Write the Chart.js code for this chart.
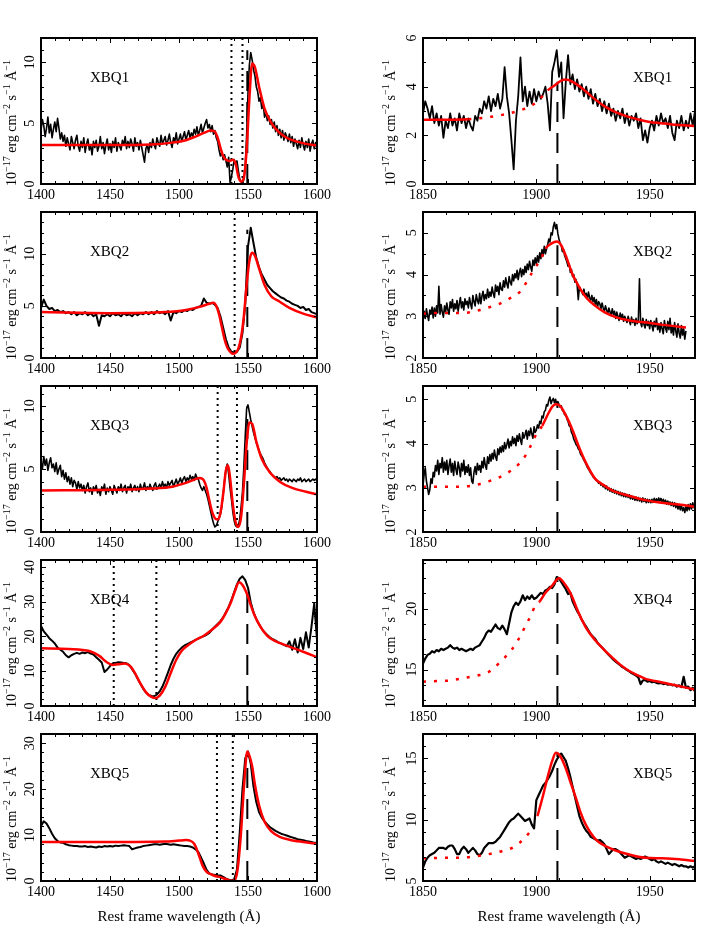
<!DOCTYPE html>
<html lang="en">
<head>
    <meta charset="UTF-8">
    <title>XBQ1-5 C IV and C III] profiles</title>
    <script src="https://cdn.jsdelivr.net/npm/chart.js"></script>
    <style>
        body { margin: 0; background: #fff; }
        #page { position: relative; width: 701px; height: 926px; background: #fff; }
        #page canvas { position: absolute; }
    </style>
</head>
<body>
<div id="page"></div>
<script>
// wavelength grids (Angstrom)
const waveLeft = [1400,1402,1404,1406,1408,1410,1412,1414,1416,1418,
    1420,1422,1424,1426,1428,1430,1432,1434,1436,1438,
    1440,1442,1444,1446,1448,1450,1452,1454,1456,1458,
    1460,1462,1464,1466,1468,1470,1472,1474,1476,1478,
    1480,1482,1484,1486,1488,1490,1492,1494,1496,1498,
    1500,1502,1504,1506,1508,1510,1512,1514,1516,1518,
    1520,1522,1524,1526,1528,1530,1532,1534,1536,1538,
    1540,1542,1544,1546,1548,1550,1552,1554,1556,1558,
    1560,1562,1564,1566,1568,1570,1572,1574,1576,1578,
    1580,1582,1584,1586,1588,1590,1592,1594,1596,1598,1600];
const waveLeftFine = [1400,1401,1402,1403,1404,1405,1406,1407,1408,1409,
    1410,1411,1412,1413,1414,1415,1416,1417,1418,1419,
    1420,1421,1422,1423,1424,1425,1426,1427,1428,1429,
    1430,1431,1432,1433,1434,1435,1436,1437,1438,1439,
    1440,1441,1442,1443,1444,1445,1446,1447,1448,1449,
    1450,1451,1452,1453,1454,1455,1456,1457,1458,1459,
    1460,1461,1462,1463,1464,1465,1466,1467,1468,1469,
    1470,1471,1472,1473,1474,1475,1476,1477,1478,1479,
    1480,1481,1482,1483,1484,1485,1486,1487,1488,1489,
    1490,1491,1492,1493,1494,1495,1496,1497,1498,1499,
    1500,1501,1502,1503,1504,1505,1506,1507,1508,1509,
    1510,1511,1512,1513,1514,1515,1516,1517,1518,1519,
    1520,1521,1522,1523,1524,1525,1526,1527,1528,1529,
    1530,1531,1532,1533,1534,1535,1536,1537,1538,1539,
    1540,1541,1542,1543,1544,1545,1546,1547,1548,1549,
    1550,1551,1552,1553,1554,1555,1556,1557,1558,1559,
    1560,1561,1562,1563,1564,1565,1566,1567,1568,1569,
    1570,1571,1572,1573,1574,1575,1576,1577,1578,1579,
    1580,1581,1582,1583,1584,1585,1586,1587,1588,1589,
    1590,1591,1592,1593,1594,1595,1596,1597,1598,1599,1600];
const waveRight = [1850,1851,1852,1853,1854,1855,1856,1857,1858,1859,
    1860,1861,1862,1863,1864,1865,1866,1867,1868,1869,
    1870,1871,1872,1873,1874,1875,1876,1877,1878,1879,
    1880,1881,1882,1883,1884,1885,1886,1887,1888,1889,
    1890,1891,1892,1893,1894,1895,1896,1897,1898,1899,
    1900,1901,1902,1903,1904,1905,1906,1907,1908,1909,
    1910,1911,1912,1913,1914,1915,1916,1917,1918,1919,
    1920,1921,1922,1923,1924,1925,1926,1927,1928,1929,
    1930,1931,1932,1933,1934,1935,1936,1937,1938,1939,
    1940,1941,1942,1943,1944,1945,1946,1947,1948,1949,
    1950,1951,1952,1953,1954,1955,1956,1957,1958,1959,
    1960,1961,1962,1963,1964,1965,1966,1967,1968,1969,1970];
const waveRightFine = [1850,1850.5,1851,1851.5,1852,1852.5,1853,1853.5,1854,1854.5,
    1855,1855.5,1856,1856.5,1857,1857.5,1858,1858.5,1859,1859.5,
    1860,1860.5,1861,1861.5,1862,1862.5,1863,1863.5,1864,1864.5,
    1865,1865.5,1866,1866.5,1867,1867.5,1868,1868.5,1869,1869.5,
    1870,1870.5,1871,1871.5,1872,1872.5,1873,1873.5,1874,1874.5,
    1875,1875.5,1876,1876.5,1877,1877.5,1878,1878.5,1879,1879.5,
    1880,1880.5,1881,1881.5,1882,1882.5,1883,1883.5,1884,1884.5,
    1885,1885.5,1886,1886.5,1887,1887.5,1888,1888.5,1889,1889.5,
    1890,1890.5,1891,1891.5,1892,1892.5,1893,1893.5,1894,1894.5,
    1895,1895.5,1896,1896.5,1897,1897.5,1898,1898.5,1899,1899.5,
    1900,1900.5,1901,1901.5,1902,1902.5,1903,1903.5,1904,1904.5,
    1905,1905.5,1906,1906.5,1907,1907.5,1908,1908.5,1909,1909.5,
    1910,1910.5,1911,1911.5,1912,1912.5,1913,1913.5,1914,1914.5,
    1915,1915.5,1916,1916.5,1917,1917.5,1918,1918.5,1919,1919.5,
    1920,1920.5,1921,1921.5,1922,1922.5,1923,1923.5,1924,1924.5,
    1925,1925.5,1926,1926.5,1927,1927.5,1928,1928.5,1929,1929.5,
    1930,1930.5,1931,1931.5,1932,1932.5,1933,1933.5,1934,1934.5,
    1935,1935.5,1936,1936.5,1937,1937.5,1938,1938.5,1939,1939.5,
    1940,1940.5,1941,1941.5,1942,1942.5,1943,1943.5,1944,1944.5,
    1945,1945.5,1946,1946.5,1947,1947.5,1948,1948.5,1949,1949.5,
    1950,1950.5,1951,1951.5,1952,1952.5,1953,1953.5,1954,1954.5,
    1955,1955.5,1956,1956.5,1957,1957.5,1958,1958.5,1959,1959.5,
    1960,1960.5,1961,1961.5,1962,1962.5,1963,1963.5,1964,1964.5,
    1965,1965.5,1966,1966.5,1967,1967.5,1968,1968.5,1969,1969.5,1970];

// observed flux, C IV region (1e-17 erg/cm2/s/A)
const fluxL1 = [4.4,5.3,4.8,3.9,4.6,5.5,4.2,4.9,3.8,4.5,
    5.1,4.3,5.4,4.6,3.7,4.2,3.5,4.0,3.1,3.8,
    3.3,2.8,3.9,3.4,2.9,3.6,4.0,3.1,2.7,3.5,
    3.0,3.8,2.6,3.3,3.7,2.8,3.2,2.4,3.5,3.0,
    3.6,2.7,3.1,3.9,2.9,3.4,2.5,3.2,3.7,2.8,
    3.3,2.6,3.5,3.0,3.8,2.7,3.4,3.1,2.8,3.6,
    3.2,3.9,2.9,3.5,3.0,3.7,3.3,2.7,3.8,3.1,
    3.4,2.8,3.6,3.0,2.4,1.8,2.9,3.2,2.6,3.4,
    3.0,3.7,3.2,2.9,3.8,3.4,3.1,4.0,3.3,3.6,
    3.9,3.2,3.6,4.1,3.4,3.0,3.8,3.5,4.2,3.3,
    3.7,4.1,3.5,3.9,4.3,3.6,4.0,4.4,3.8,4.2,
    3.9,4.5,4.1,4.7,4.0,4.4,4.9,4.2,4.6,5.0,
    5.3,4.6,4.9,4.3,4.8,4.1,4.4,3.8,3.5,2.8,
    2.3,2.6,2.0,2.4,1.9,1.4,2.2,0.1,0.6,1.2,
    2.0,1.6,1.9,1.1,0.4,0.2,0.0,0.4,1.5,4.0,
    7.5,9.8,10.8,10.2,9.4,8.9,8.0,7.6,6.8,7.1,
    6.2,6.6,5.5,5.9,5.2,5.6,4.9,5.3,4.6,5.1,
    4.3,4.8,4.0,4.5,3.8,4.4,3.6,4.2,3.9,3.5,
    4.1,3.4,3.9,3.1,3.7,3.3,2.9,3.6,3.0,3.8,
    3.2,2.8,3.5,3.0,3.7,2.7,3.3,3.6,2.9,3.4,3.1];
const fluxL2 = [4.8,5.6,5.0,4.7,4.8,4.5,4.6,4.4,4.5,4.3,
    4.4,4.2,4.4,4.1,4.3,4.2,4.4,4.1,4.3,4.0,
    4.2,3.1,4.1,4.0,4.2,4.0,4.3,4.1,4.2,4.0,
    4.3,4.1,4.2,4.0,4.3,4.1,4.3,4.2,4.4,4.2,
    4.4,4.2,4.5,4.3,4.4,4.2,4.5,3.6,4.4,4.3,
    4.5,4.4,4.6,4.5,4.7,4.6,4.8,4.9,5.0,5.7,
    5.3,5.2,5.3,5.1,4.8,4.0,2.9,1.8,1.0,0.6,
    0.5,0.6,1.0,2.4,5.2,10.7,12.5,11.0,9.6,8.7,
    8.0,7.5,7.0,6.7,6.4,6.2,6.0,5.8,5.7,5.5,
    5.4,5.2,5.1,5.0,4.8,4.9,4.6,4.7,4.4,4.3,4.2];
const fluxL3 = [5.6,5.0,6.0,5.3,5.8,4.9,5.5,5.9,5.1,5.4,
    4.8,5.5,4.6,5.0,5.3,4.4,4.9,4.2,4.7,4.0,
    4.4,3.8,4.3,3.6,4.1,3.9,3.4,4.0,3.5,3.8,
    3.3,3.7,3.1,3.6,3.9,3.2,3.5,3.0,3.6,3.3,
    3.7,3.1,3.4,2.9,3.6,3.3,3.8,3.0,3.5,3.2,
    3.6,3.3,3.0,3.7,3.4,3.1,3.6,3.3,3.8,3.2,
    3.5,3.7,3.1,3.6,3.4,3.8,3.2,3.5,3.7,3.3,
    3.6,3.2,3.8,3.4,3.5,3.9,3.3,3.6,3.4,3.8,
    3.5,3.3,3.7,3.9,3.4,3.6,3.8,3.5,4.0,3.6,
    3.8,3.5,4.0,3.7,3.9,4.1,3.6,3.9,4.2,3.8,
    4.0,4.3,3.9,4.2,4.4,4.0,4.3,4.1,4.5,4.2,
    4.4,4.1,4.6,4.3,4.2,3.8,3.5,3.3,3.6,3.3,
    3.0,2.6,2.1,1.6,1.1,0.7,0.4,0.5,0.8,1.1,
    1.4,2.0,3.0,4.1,5.0,5.4,4.6,3.5,2.6,1.6,
    0.9,0.5,0.4,0.5,1.0,2.0,3.2,5.2,7.6,9.8,
    10.1,9.5,8.9,8.4,7.9,7.5,7.1,6.8,6.5,6.2,
    6.0,5.8,5.5,5.3,5.1,4.9,4.8,4.6,4.5,4.4,
    4.3,4.4,4.2,4.3,4.1,4.2,4.3,4.1,4.2,4.0,
    4.2,4.1,4.0,4.2,4.1,4.0,4.2,4.1,4.3,4.0,
    4.1,4.2,4.0,4.1,4.2,4.0,4.1,4.2,4.1,4.2,4.1];
const fluxL4 = [23.0,21.5,20.5,19.5,18.8,18.0,16.8,16.2,15.6,14.6,
    14.0,14.6,15.0,15.3,15.0,15.4,15.2,15.5,15.1,14.8,
    14.0,13.3,12.5,9.8,10.5,11.5,12.2,12.4,12.6,12.5,
    12.4,12.3,11.8,10.6,9.4,7.9,6.4,5.0,3.9,3.2,
    2.9,2.8,3.3,4.2,5.6,7.5,9.6,11.8,13.6,15.0,
    16.0,16.8,17.4,17.8,18.2,18.6,19.0,19.4,19.8,20.1,
    20.5,21.0,22.0,22.8,23.6,24.4,25.5,27.0,28.5,30.5,
    32.8,35.0,36.6,37.3,36.2,34.0,29.8,27.0,25.0,23.5,
    22.2,21.2,20.4,19.7,19.2,18.8,18.3,18.0,17.6,17.2,
    18.6,16.2,19.2,15.4,19.6,16.4,21.2,16.8,22.8,29.5,19.0];
const fluxL5 = [12.0,13.0,12.5,11.5,10.3,9.3,8.7,8.4,8.3,8.0,
    7.8,7.7,7.6,7.6,7.5,7.5,7.6,7.4,7.5,7.4,
    7.3,7.5,7.4,7.6,7.5,7.6,7.5,7.7,7.6,7.7,
    7.8,7.7,7.6,6.9,7.1,7.3,7.4,7.6,7.7,7.8,
    7.9,8.0,8.0,7.9,8.0,8.1,8.0,7.9,8.0,7.9,
    7.8,7.7,7.6,7.6,7.5,7.3,6.9,6.3,5.1,3.8,
    2.4,1.6,1.4,1.3,1.2,1.2,0.9,0.5,0.3,0.1,
    0.4,2.5,10.5,20.0,26.7,28.2,25.5,20.5,17.2,15.0,
    13.8,13.0,12.3,11.7,11.3,10.9,10.6,10.3,10.1,9.9,
    9.7,9.5,9.3,9.1,9.0,8.9,8.7,8.6,8.5,8.3,8.3];

// observed flux, C III] region
const fluxR1 = [2.9,3.4,3.1,2.7,3.2,2.5,2.9,2.4,2.8,1.9,
    2.6,2.3,2.9,2.4,2.7,2.2,2.9,2.5,2.8,2.3,
    2.7,2.4,2.2,2.8,2.6,3.1,2.9,3.4,3.1,3.6,
    3.0,3.5,3.2,3.7,3.1,3.5,4.8,3.6,2.9,1.8,
    0.6,2.6,3.6,5.2,3.4,4.0,3.2,3.8,3.3,3.9,
    3.4,3.8,3.5,3.7,4.0,3.3,2.2,4.6,5.0,5.5,
    4.4,5.0,2.7,4.2,5.3,4.1,4.5,3.9,4.3,3.8,
    4.1,3.6,4.0,3.5,3.9,3.3,3.7,3.2,3.5,3.0,
    3.4,2.9,3.3,2.8,3.1,2.6,3.0,2.7,3.1,2.5,
    2.9,2.4,2.8,2.6,2.9,2.3,2.7,1.8,2.2,1.7,
    2.3,2.6,2.2,2.8,2.4,2.9,2.5,2.7,2.3,2.8,
    2.1,1.8,2.6,2.3,2.8,2.2,2.6,2.3,2.9,2.4,3.0];
const fluxR2 = [2.88,3.12,2.95,3.18,3.02,2.9,3.15,3.05,3.22,2.96,
    3.2,3.0,3.25,3.08,3.72,3.05,3.28,3.1,2.98,3.25,
    3.1,3.32,3.15,3.05,3.35,3.2,3.4,3.12,3.3,3.18,
    3.38,3.12,3.3,3.45,3.2,3.35,3.15,3.42,3.28,3.36,
    3.2,3.45,3.3,3.18,3.5,3.35,3.25,3.52,3.38,3.3,
    3.55,3.3,3.48,3.6,3.38,3.52,3.42,3.65,3.45,3.58,
    3.48,3.7,3.55,3.45,3.75,3.6,3.72,3.52,3.8,3.65,
    3.62,3.85,3.7,3.92,3.78,3.68,3.95,3.82,3.75,4.0,
    3.85,4.02,3.92,4.1,3.88,4.05,4.15,3.95,4.12,4.0,
    4.2,4.05,4.25,4.12,4.32,4.18,4.08,4.35,4.22,4.4,
    4.25,4.45,4.3,4.52,4.38,4.6,4.45,4.68,4.5,4.62,
    4.72,4.85,4.78,5.0,4.95,5.15,5.25,5.1,5.2,4.98,
    4.85,4.75,4.7,4.55,4.6,4.45,4.38,4.3,4.2,4.25,
    4.05,4.12,3.95,4.0,3.82,3.88,3.75,3.4,3.7,3.62,
    3.6,3.52,3.65,3.48,3.55,3.42,3.58,3.45,3.38,3.5,
    3.35,3.45,3.28,3.4,3.22,3.35,3.3,3.18,3.32,3.2,
    3.12,3.25,3.15,3.05,3.2,3.1,3.02,3.18,3.05,3.12,
    2.95,3.1,3.0,2.9,3.08,2.95,3.05,2.88,3.0,2.92,
    2.85,3.0,2.9,2.8,2.98,2.85,2.92,2.78,2.95,2.82,
    2.9,3.9,2.85,2.75,2.95,2.8,2.72,2.92,2.78,2.88,
    2.7,2.9,2.78,2.65,2.88,2.75,2.95,2.68,2.82,2.62,
    2.85,2.7,2.58,2.9,2.72,2.62,2.88,2.68,2.95,2.6,
    2.75,2.55,2.85,2.65,2.5,2.82,2.6,2.48,2.78,2.55,
    2.7,2.45,2.65,null,null,null,null,null,null,null,null];
const fluxR3 = [3.05,3.3,3.45,3.15,3.0,2.85,2.95,3.2,3.1,3.35,
    3.25,3.5,3.38,3.62,3.3,3.55,3.45,3.68,3.35,3.58,
    3.4,3.62,3.3,3.5,3.65,3.35,3.55,3.28,3.6,3.42,
    3.3,3.58,3.45,3.25,3.55,3.38,3.62,3.3,3.48,3.35,
    3.52,3.28,3.45,3.15,3.1,3.35,3.48,3.3,3.55,3.4,
    3.5,3.35,3.6,3.45,3.68,3.5,3.42,3.7,3.55,3.75,
    3.6,3.78,3.65,3.85,3.7,3.62,3.88,3.75,3.92,3.8,
    3.95,3.82,4.02,3.88,3.98,4.1,3.9,4.05,3.95,4.15,
    4.0,4.12,3.95,4.18,4.05,4.22,4.08,3.98,4.25,4.12,
    4.2,4.3,4.1,4.28,4.18,4.35,4.22,4.12,4.38,4.25,
    4.3,4.42,4.35,4.5,4.45,4.62,4.58,4.72,4.75,4.88,
    4.85,4.98,5.05,4.9,4.98,5.02,4.92,5.0,4.88,4.95,
    4.88,4.82,4.85,4.75,4.72,4.65,4.66,4.55,4.5,4.4,
    4.38,4.25,4.2,4.1,4.05,3.98,3.95,3.88,3.85,3.76,
    3.72,3.68,3.62,3.58,3.52,3.46,3.42,3.38,3.33,3.3,
    3.25,3.22,3.2,3.16,3.15,3.1,3.12,3.06,3.08,3.02,
    3.06,2.98,3.04,2.95,3.0,2.92,2.98,2.9,2.96,2.88,
    2.94,2.86,2.92,2.84,2.9,2.82,2.88,2.8,2.87,2.79,
    2.85,2.78,2.84,2.75,2.82,2.74,2.8,2.72,2.79,2.71,
    2.78,2.7,2.76,2.68,2.77,2.69,2.75,2.66,2.74,2.67,
    2.73,2.66,2.74,2.67,2.76,2.68,2.75,2.69,2.77,2.7,
    2.76,2.68,2.74,2.66,2.72,2.63,2.7,2.62,2.68,2.6,
    2.67,2.58,2.66,2.55,2.64,2.52,2.62,2.5,2.6,2.48,
    2.55,2.44,2.58,2.48,2.62,2.5,2.64,2.52,2.66,2.55,2.62];
const fluxR4 = [15.5,15.9,16.2,16.3,16.5,16.4,16.6,16.5,16.7,16.6,
    16.7,16.8,17.0,16.8,16.7,16.8,16.6,16.7,16.6,16.5,
    16.6,16.7,16.6,16.8,16.9,17.0,17.3,17.6,18.0,18.2,
    18.1,18.4,18.7,18.4,18.3,18.6,18.3,17.9,18.8,19.7,
    20.2,20.5,20.3,20.6,21.1,20.7,21.0,20.8,21.1,20.8,
    20.9,21.1,21.3,21.2,21.5,21.6,21.8,21.7,22.0,22.6,
    22.5,22.2,21.9,21.6,21.2,21.3,20.6,20.2,19.8,19.5,
    19.1,18.8,18.5,18.2,17.9,17.7,17.5,17.2,17.0,16.8,
    16.6,16.4,16.2,16.0,15.8,15.65,15.5,15.35,15.2,15.1,
    14.95,14.85,14.7,14.6,14.5,14.35,13.8,14.1,14.15,14.0,
    14.05,13.95,14.0,13.9,13.85,13.9,13.8,13.85,13.75,13.8,
    13.7,13.75,13.6,13.7,13.55,14.4,13.5,13.6,13.3,13.5,13.2];
const fluxR5 = [6.1,6.6,6.9,7.1,7.2,7.3,7.5,7.7,7.7,7.7,
    7.6,7.8,7.9,7.9,7.6,7.2,7.2,7.6,7.8,7.6,
    7.3,7.5,7.7,7.5,7.2,7.1,7.3,7.7,7.9,8.1,
    8.1,8.1,8.2,8.4,8.6,8.9,9.2,9.5,9.8,10.0,
    10.1,10.3,10.5,10.3,10.1,9.9,10.0,10.1,9.6,9.3,
    11.6,12.0,12.4,12.8,13.0,13.3,13.6,14.0,14.5,14.9,
    15.2,15.4,15.1,14.8,14.2,13.5,12.7,11.9,11.1,10.3,
    9.8,9.4,9.1,8.9,8.6,8.5,8.4,8.3,8.35,8.2,
    8.0,7.6,7.2,7.4,7.6,7.6,7.5,7.3,7.1,6.9,
    7.0,7.1,7.0,6.9,6.8,6.9,6.8,6.9,7.0,6.9,
    6.8,6.7,6.8,6.6,6.5,6.6,6.5,6.4,6.5,6.4,
    6.3,6.4,6.3,6.2,6.3,6.2,6.2,6.1,6.2,6.1,6.2];

// model fits (knots)
const modelL1x = [1400,1450,1480,1495,1505,1512,1518,1523,1526,1528,1530,1532,1534,1537,1539,1541,1543,1545,1547,1549,1551,1553,1555,1558,1562,1567,1572,1578,1585,1592,1600];
const modelL1y = [3.2,3.2,3.25,3.4,3.6,3.9,4.2,4.4,4.3,3.8,3.0,2.3,2.0,1.9,2.0,1.7,0.6,0.2,0.5,2.8,7.0,9.9,9.6,8.0,6.2,5.0,4.3,3.8,3.5,3.3,3.15];
const modelL2x = [1400,1450,1490,1505,1515,1522,1525,1527,1529,1531,1533,1535,1537,1539,1541,1543,1545,1547,1549,1551,1553,1555,1558,1562,1567,1573,1580,1590,1600];
const modelL2y = [4.4,4.3,4.4,4.6,4.9,5.2,5.3,5.0,4.2,3.0,1.8,1.0,0.6,0.4,0.5,0.9,2.0,4.0,7.0,9.3,10.1,9.8,8.6,7.0,5.9,5.4,4.8,4.25,3.9];
const modelL3x = [1400,1450,1480,1495,1505,1512,1515,1518,1520,1522,1524,1526,1528,1530,1532,1534,1535.5,1537,1539,1541,1543,1545,1547,1549,1551,1553,1556,1560,1566,1573,1582,1592,1600];
const modelL3y = [3.3,3.35,3.45,3.6,3.9,4.2,4.3,4.1,3.5,2.5,1.6,1.1,1.0,1.5,3.0,4.9,5.3,4.3,2.2,0.8,0.4,1.2,3.8,7.0,8.7,8.6,7.2,5.8,4.7,4.0,3.5,3.2,3.0];
const modelL4x = [1400,1420,1435,1442,1448,1452,1456,1461,1465,1468,1472,1476,1480,1483,1486,1490,1494,1498,1502,1506,1512,1518,1524,1530,1534,1537.5,1540.5,1543.5,1546,1549.5,1552,1554.4,1559.3,1564,1569,1578.6,1590,1600];
const modelL4y = [16.6,16.4,15.8,14.5,12.5,11.8,12.0,12.2,11.3,9.5,6.5,4.0,2.6,2.3,3.0,5.5,9.5,13.3,15.9,17.3,19.0,20.2,22.0,24.2,26.8,29.7,33.0,35.6,34.8,32.0,29.0,26.4,22.6,20.2,18.8,17.3,15.6,14.0];
const modelL5x = [1400,1450,1490,1500,1505,1508,1511,1514,1517,1520,1523,1526,1529,1532,1535,1538,1540,1542.3,1544.8,1547,1549.5,1551,1553,1555,1558,1562,1567,1573,1580,1590,1600];
const modelL5y = [8.5,8.5,8.6,8.8,8.9,8.8,8.1,6.0,3.4,2.0,1.5,1.1,0.9,0.6,0.3,0.05,0.1,2.2,10.0,20.2,28.2,27.3,25.0,21.0,16.5,12.9,10.8,9.6,9.0,8.5,8.1];

const modelR1x = [1850,1860,1870,1875,1880,1885,1890,1895,1900,1905,1908,1911,1913,1916,1920,1925,1930,1935,1940,1945,1950,1955,1960,1965,1970];
const modelR1y = [2.64,2.64,2.66,2.7,2.76,2.84,2.95,3.1,3.35,3.85,4.05,4.25,4.29,4.2,3.95,3.55,3.2,2.95,2.78,2.65,2.55,2.5,2.45,2.41,2.38];
const modelR2x = [1850,1856,1862,1867,1873,1878,1883,1888,1893,1896,1899,1902,1904,1906,1909,1911,1913,1916,1918.6,1922,1926,1930,1935,1940,1945,1950,1955,1960,1966];
const modelR2y = [3.06,3.08,3.08,3.08,3.12,3.2,3.28,3.42,3.6,3.85,4.13,4.37,4.62,4.72,4.79,4.7,4.45,4.0,3.73,3.45,3.25,3.1,2.98,2.91,2.87,2.84,2.8,2.77,2.73];
const modelR3x = [1850,1856,1862,1868,1873,1878,1883,1888,1892,1895.5,1898,1900.5,1902.6,1905,1907,1908.5,1910.5,1913,1916,1918.8,1922,1926,1930,1933.4,1940.8,1948,1955.4,1962.8,1970];
const modelR3y = [3.02,3.02,3.02,3.03,3.06,3.13,3.22,3.36,3.52,3.75,4.0,4.26,4.4,4.65,4.83,4.89,4.85,4.64,4.3,3.92,3.55,3.2,3.05,2.94,2.82,2.72,2.66,2.62,2.57];
const modelR4x = [1850,1856,1862,1868,1874,1879,1884,1889,1892.5,1895,1897.5,1899.7,1901.5,1904,1907,1910,1913,1915,1918.8,1922,1926,1930,1933.4,1937,1940.8,1945,1948,1955,1962.8,1970];
const modelR4y = [14.0,14.05,14.1,14.3,14.5,14.8,15.6,16.6,17.6,18.5,19.4,20.3,20.6,21.3,21.9,22.5,21.9,21.3,19.6,18.4,17.4,16.6,16.0,15.4,14.9,14.5,14.25,13.95,13.65,13.35];
const modelR5x = [1850,1856,1862,1868,1874,1880,1885,1890,1895,1898,1899,1900.5,1903,1905,1907,1908.6,1910.5,1913,1915,1917.4,1919.5,1921.8,1926.2,1933.5,1940.9,1948.2,1955.6,1963,1970];
const modelR5y = [6.85,6.88,6.9,6.92,7.04,7.23,7.45,7.77,8.53,9.2,null,10.3,12.0,13.5,14.8,15.46,15.2,14.2,13.1,11.8,10.6,9.6,8.4,7.6,7.17,6.9,6.85,6.77,6.63];

// line positions
const civLine = 1549.5;
const ciiiLine = 1909.3;
const absL1 = [1538, 1546];
const absL2 = [1540.3];
const absL3 = [1528, 1542];
const absL4 = [1452.7, 1483.6];
const absL5 = [1527.5, 1539];
const emTopLeft = [11, 12.3, 10, 33, 28];
const emTopRight = [4.2, 4.7, 4.9, 22.5, 15.5];

const names = ['XBQ1', 'XBQ2', 'XBQ3', 'XBQ4', 'XBQ5'];
const SERIF = '"Liberation Serif", "Times New Roman", serif';
Chart.defaults.font.family = SERIF;
Chart.defaults.color = '#000';

// lw: width of the observed spectrum line
const panels = [
    { col: 0, row: 0, wave: waveLeftFine, flux: fluxL1, mx: modelL1x, my: modelL1y, abs: absL1, y: [0, 12], yMajor: 5, yMinor: 1, lw: 1.6 },
    { col: 0, row: 1, wave: waveLeft, flux: fluxL2, mx: modelL2x, my: modelL2y, abs: absL2, y: [0, 14], yMajor: 5, yMinor: 1, lw: 2 },
    { col: 0, row: 2, wave: waveLeftFine, flux: fluxL3, mx: modelL3x, my: modelL3y, abs: absL3, y: [0, 11.6], yMajor: 5, yMinor: 1, lw: 1.6 },
    { col: 0, row: 3, wave: waveLeft, flux: fluxL4, mx: modelL4x, my: modelL4y, abs: absL4, y: [0, 42], yMajor: 10, yMinor: 2, lw: 2 },
    { col: 0, row: 4, wave: waveLeft, flux: fluxL5, mx: modelL5x, my: modelL5y, abs: absL5, y: [0, 32], yMajor: 10, yMinor: 2, lw: 2 },
    { col: 1, row: 0, wave: waveRight, flux: fluxR1, mx: modelR1x, my: modelR1y, abs: [], y: [0, 6], yMajor: 2, yMinor: 1, dots: [1870, 1905], lw: 1.8 },
    { col: 1, row: 1, wave: waveRightFine, flux: fluxR2, mx: modelR2x, my: modelR2y, abs: [], y: [2, 5.5], yMajor: 1, yMinor: 0.5, dots: [1850, 1904], lw: 1.6 },
    { col: 1, row: 2, wave: waveRightFine, flux: fluxR3, mx: modelR3x, my: modelR3y, abs: [], y: [2, 5.3], yMajor: 1, yMinor: 0.5, dots: [1850, 1902.6], lw: 1.6 },
    { col: 1, row: 3, wave: waveRight, flux: fluxR4, mx: modelR4x, my: modelR4y, abs: [], y: [12, 24], yMajor: 5, yMinor: 1.25, dots: [1850, 1901.5], lw: 2.2 },
    { col: 1, row: 4, wave: waveRight, flux: fluxR5, mx: modelR5x, my: modelR5y, abs: [], y: [5, 17], yMajor: 5, yMinor: 1, dots: [1850, 1898], lw: 2.2 }
];

// y axis title with superscripts, drawn rotated
const yTitleParts = [['10', 0], ['\u221217', 1], [' erg cm', 0], ['\u22122', 1], [' s', 0], ['\u22121', 1], [' \u00C5', 0], ['\u22121', 1]];

function drawRichText(ctx, parts) {
    let total = 0;
    const widths = parts.map(([t, sup]) => {
        ctx.font = (sup ? 10 : 14) + 'px ' + SERIF;
        const w = ctx.measureText(t).width;
        total += w;
        return w;
    });
    let x = -total / 2;
    parts.forEach(([t, sup], i) => {
        ctx.font = (sup ? 10 : 14) + 'px ' + SERIF;
        ctx.fillText(t, x, sup ? -5 : 0);
        x += widths[i];
    });
}

const framePlugin = {
    id: 'frame',
    afterDatasetsDraw(chart, args, o) {
        const { ctx, chartArea: a } = chart;
        const xs = chart.scales.x, ys = chart.scales.y;
        const isMajor = (v, step) => Math.abs(v / step - Math.round(v / step)) < 1e-6;
        ctx.save();
        ctx.strokeStyle = '#000';
        ctx.fillStyle = '#000';
        ctx.lineWidth = 1;

        // inward ticks on bottom and top
        const nx = Math.round((xs.max - xs.min) / o.xMinor);
        for (let i = 0; i <= nx; i++) {
            const v = xs.min + i * o.xMinor;
            const len = isMajor(v, o.xMajor) ? 5 : 3;
            const px = Math.round(xs.getPixelForValue(v)) + 0.5;
            ctx.beginPath();
            ctx.moveTo(px, a.bottom); ctx.lineTo(px, a.bottom - len);
            ctx.moveTo(px, a.top); ctx.lineTo(px, a.top + len);
            ctx.stroke();
        }

        // inward ticks left/right, rotated labels
        const y0 = Math.ceil(ys.min / o.yMinor - 1e-6) * o.yMinor;
        const ny = Math.floor((ys.max - y0) / o.yMinor + 1e-6);
        for (let i = 0; i <= ny; i++) {
            const v = y0 + i * o.yMinor;
            const major = isMajor(v, o.yMajor);
            const len = major ? 5 : 3;
            const py = Math.round(ys.getPixelForValue(v)) + 0.5;
            ctx.beginPath();
            ctx.moveTo(a.left, py); ctx.lineTo(a.left + len, py);
            ctx.moveTo(a.right, py); ctx.lineTo(a.right - len, py);
            ctx.stroke();
            if (major) {
                ctx.save();
                ctx.translate(a.left - 11, ys.getPixelForValue(v));
                ctx.rotate(-Math.PI / 2);
                ctx.font = '14px ' + SERIF;
                ctx.textAlign = 'center';
                ctx.textBaseline = 'middle';
                ctx.fillText(String(Math.round(v * 100) / 100), 0, 0);
                ctx.restore();
            }
        }

        // axis title
        ctx.save();
        ctx.translate(a.left + o.titleDx, a.top + 85);
        ctx.rotate(-Math.PI / 2);
        ctx.textAlign = 'left';
        ctx.textBaseline = 'middle';
        drawRichText(ctx, yTitleParts);
        ctx.restore();

        // frame
        ctx.lineWidth = 2;
        ctx.strokeRect(a.left, a.top, a.right - a.left, a.bottom - a.top);

        // object name
        ctx.font = '15px ' + SERIF;
        ctx.textAlign = 'left';
        ctx.textBaseline = 'middle';
        ctx.fillText(o.name, a.left + o.nameDx, a.top + 40);
        ctx.restore();
    }
};

const page = document.getElementById('page');

panels.forEach(p => {
    const isLeft = p.col === 0;
    const last = p.row === 4;
    const canvas = document.createElement('canvas');
    canvas.width = isLeft ? 340 : 321;
    canvas.height = last ? 200 : 174;
    canvas.style.left = (isLeft ? 0 : 380) + 'px';
    canvas.style.top = (30 + 174 * p.row) + 'px';
    page.appendChild(canvas);

    const em = isLeft ? civLine : ciiiLine;
    const emTop = isLeft ? emTopLeft[p.row] : emTopRight[p.row];
    const dots = p.dots;

    const datasets = [
        {
            data: p.mx.map((x, i) => ({ x: x, y: p.my[i] })),
            borderColor: '#ff0000',
            borderWidth: 2.5,
            cubicInterpolationMode: 'monotone',
            spanGaps: false,
            order: 0,
            segment: {
                borderDash: c => (dots && c.p0.parsed.x >= dots[0] && c.p1.parsed.x <= dots[1]) ? [3, 8] : undefined
            }
        },
        {
            data: p.wave.map((x, i) => ({ x: x, y: p.flux[i] })),
            borderColor: '#000',
            borderWidth: p.lw,
            borderJoinStyle: 'round',
            tension: 0,
            spanGaps: false,
            order: 1
        },
        {
            data: [{ x: em, y: p.y[0] }, { x: em, y: emTop }],
            borderColor: '#000',
            borderWidth: 2,
            borderDash: [20, 11],
            order: 2
        }
    ];
    p.abs.forEach(v => {
        datasets.push({
            data: [{ x: v, y: p.y[0] }, { x: v, y: p.y[1] }],
            borderColor: '#000',
            borderWidth: 2,
            borderDash: [2, 4],
            order: 2
        });
    });

    new Chart(canvas, {
        type: 'line',
        data: { datasets: datasets },
        options: {
            responsive: false,
            maintainAspectRatio: false,
            animation: false,
            devicePixelRatio: 1,
            elements: { point: { radius: 0 } },
            layout: { padding: { top: 8, right: isLeft ? 23 : 6, bottom: 0, left: 0 } },
            plugins: {
                legend: { display: false },
                tooltip: { enabled: false },
                frame: {
                    name: names[p.row],
                    nameDx: isLeft ? 49 : 210,
                    titleDx: isLeft ? -29 : -32,
                    xMajor: 50, xMinor: 10,
                    yMajor: p.yMajor, yMinor: p.yMinor
                }
            },
            scales: {
                x: {
                    type: 'linear',
                    min: isLeft ? 1400 : 1850,
                    max: isLeft ? 1600 : 1970,
                    grid: { display: false, drawTicks: false },
                    border: { display: false },
                    ticks: {
                        stepSize: 50,
                        includeBounds: false,
                        autoSkip: false,
                        maxRotation: 0,
                        padding: 3,
                        color: '#000',
                        font: { size: 14, family: SERIF },
                        callback: v => String(v)
                    },
                    title: {
                        display: last,
                        text: 'Rest frame wavelength (\u00C5)',
                        color: '#000',
                        font: { size: 15, family: SERIF },
                        padding: { top: 0, bottom: 0 }
                    },
                    afterFit: s => { s.height = last ? 45 : 20; s.paddingLeft = 0; s.paddingRight = 0; }
                },
                y: {
                    type: 'linear',
                    min: p.y[0],
                    max: p.y[1],
                    grid: { display: false, drawTicks: false },
                    border: { display: false },
                    ticks: { display: false },
                    afterFit: s => { s.width = isLeft ? 41 : 43; }
                }
            }
        },
        plugins: [framePlugin]
    });
});
</script>
</body>
</html>
